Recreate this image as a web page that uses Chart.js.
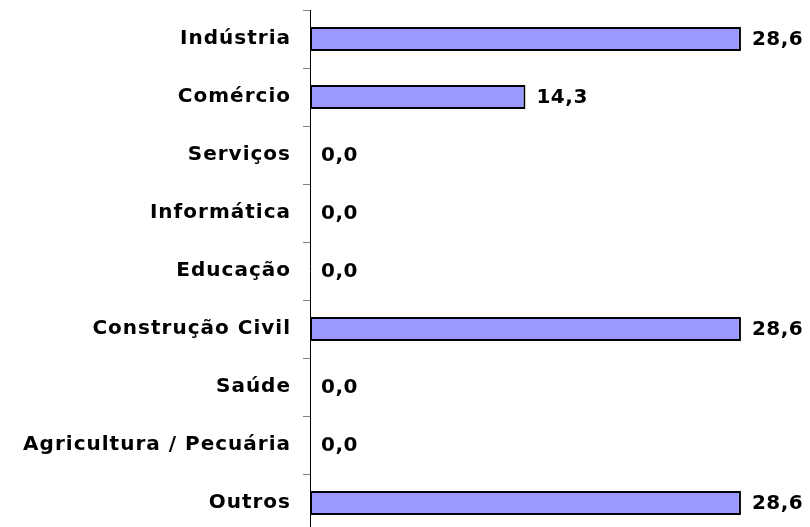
<!DOCTYPE html>
<html>
<head>
<meta charset="utf-8">
<script src="https://cdn.jsdelivr.net/npm/chart.js@4.4.1/dist/chart.umd.min.js"></script>
<style>
    html, body { margin: 0; padding: 0; background: #fff; overflow: hidden; }
    #wrap { width: 810px; height: 540px; }
</style>
</head>
<body>
<div id="wrap"><canvas id="barChart_setores"></canvas></div>
<script>
const setores = [
    'Indústria',
    'Comércio',
    'Serviços',
    'Informática',
    'Educação',
    'Construção Civil',
    'Saúde',
    'Agricultura / Pecuária',
    'Outros',
];
const percentuais = [28.6, 14.3, 0.0, 0.0, 0.0, 28.6, 0.0, 0.0, 28.6];

const fonte = "'DejaVu Sans', Verdana, sans-serif";

// espaçamento entre letras, parecido com o Verdana do original
const espacamento = {
    id: 'espacamento',
    beforeDraw(chart) {
        chart.ctx.letterSpacing = '1px';
    },
};

// escreve o valor ao lado de cada barra (com vírgula)
const rotulosValores = {
    id: 'rotulosValores',
    afterDatasetsDraw(chart) {
        const ctx = chart.ctx;
        const meta = chart.getDatasetMeta(0);
        ctx.save();
        ctx.font = 'bold 20px ' + fonte;
        ctx.letterSpacing = '0.5px';
        ctx.fillStyle = '#000';
        ctx.textAlign = 'left';
        ctx.textBaseline = 'middle';
        meta.data.forEach(function (bar, i) {
            const txt = percentuais[i].toFixed(1).replace('.', ',');
            ctx.fillText(txt, bar.x + 11, bar.y + 1);
        });
        ctx.restore();
    },
};

new Chart(document.getElementById('barChart_setores'), {
    type: 'bar',
    data: {
        labels: setores,
        datasets: [
            {
                data: percentuais,
                backgroundColor: '#9999FF',
                borderColor: '#000',
                borderWidth: function (c) {
                    return c.raw === 0 ? 0 : 2;
                },
                borderSkipped: false,
                barPercentage: 0.414,
                categoryPercentage: 1,
            },
        ],
    },
    options: {
        indexAxis: 'y',
        responsive: true,
        maintainAspectRatio: false,
        animation: false,
        layout: {
            padding: { top: 10, right: 48, bottom: 8, left: 0 },
        },
        plugins: {
            legend: { display: false },
            tooltip: { enabled: false },
        },
        scales: {
            x: {
                display: false,
                min: 0,
                max: 30,
            },
            y: {
                afterFit: function (scale) {
                    scale.width = 310;
                    scale.paddingTop = 0;
                    scale.paddingBottom = 0;
                },
                border: { display: true, color: '#000', width: 1 },
                grid: {
                    drawOnChartArea: false,
                    drawTicks: true,
                    tickLength: 7,
                    color: '#808080',
                },
                ticks: {
                    padding: 12,
                    color: '#000',
                    font: { family: fonte, size: 20, weight: 'bold' },
                },
            },
        },
    },
    plugins: [espacamento, rotulosValores],
});
</script>
</body>
</html>
